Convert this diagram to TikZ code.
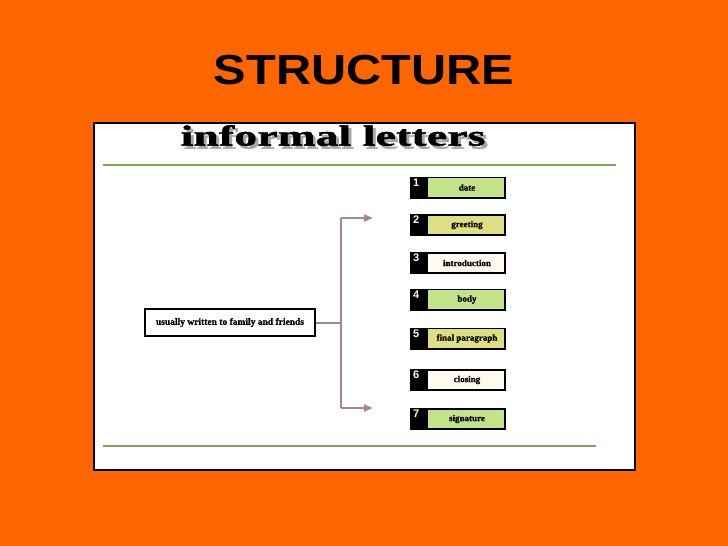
\documentclass[tikz,border=0pt]{standalone}
\usepackage{fontspec}
\setmainfont{Liberation Serif}
\newfontfamily\titlefont{Liberation Sans}
\usetikzlibrary{arrows.meta}
\definecolor{bgorange}{HTML}{FF6600}
\definecolor{rulegreen}{HTML}{7FA556}
\definecolor{boxgreen}{HTML}{C3E38A}
\definecolor{boxyellow}{HTML}{DEDE82}
\definecolor{boxivory}{HTML}{FFFAF0}
\definecolor{linkmauve}{HTML}{A8868B}
\tikzset{
  numbox/.style={draw=black, line width=2pt, minimum width=94pt, minimum height=20pt, inner sep=0pt},
  lbl/.style={font=\fontsize{9}{10}\selectfont\bfseries\addfontfeature{FakeBold=1}, inner sep=0pt},
  num/.style={font=\titlefont\fontsize{11}{11}\selectfont\bfseries, text=white, inner sep=0pt, anchor=north west},
  link/.style={draw=linkmauve, line width=2pt},
  linkarrow/.style={link, -{Triangle[length=9pt,width=7pt]}},
}
\newcommand{\stepitem}[5]{% name, ycenter, number, fill, label
  \node[numbox, fill=black, anchor=west] (#1) at (410,#2) {};
  \fill[#4] ([xshift=18pt,yshift=-1.6pt]#1.north west) rectangle ([xshift=-1.6pt,yshift=1.6pt]#1.south east);
  \node[lbl] (#1l) at ([xshift=9pt]#1.center) {#5};
  \node[num] (#1n) at ([xshift=3pt,yshift=-2pt]#1.north west) {#3};
}
\newcommand{\headtext}{\scalebox{1.55}[1]{\addfontfeature{LetterSpace=1,FakeBold=1.5}informal letters}}
\begin{document}
\begin{tikzpicture}[x=1pt,y=-1pt]
\fill[bgorange] (0,0) rectangle (728,546);
\useasboundingbox (0,0) rectangle (728,546);
% title
\node[font=\titlefont\fontsize{42}{42}\selectfont\bfseries, inner sep=0pt] (title) at (364,70) {\scalebox{1.16}[1]{STRUCTURE}};
% panel
\node[draw=black, fill=white, line width=2.5pt, minimum width=541pt, minimum height=347pt, inner sep=0pt, anchor=north west] (panel) at (92.5,121.5) {};
% heading with shadow
\node[font=\fontsize{29}{29}\selectfont\bfseries, inner sep=0pt] (head) at (333,137)
  {\rlap{\kern3pt\raisebox{-3pt}{\color{black!35}\headtext}}\headtext};
% rules
\coordinate (r1a) at (103,165); \coordinate (r1b) at (616,165);
\coordinate (r2a) at (103,446); \coordinate (r2b) at (596,446);
\draw[rulegreen, line width=2pt] (r1a) -- (r1b);
\draw[rulegreen, line width=2pt] (r2a) -- (r2b);
% left box
\node[draw=black, fill=white, line width=2pt, minimum width=170pt, minimum height=27pt, inner sep=0pt, anchor=west, lbl, font=\fontsize{9.5}{10}\selectfont\bfseries\addfontfeature{FakeBold=1}] (src) at (144,322.5) {usually written to family and friends};
% items
\stepitem{s1}{187.5}{1}{boxgreen}{date}
\stepitem{s2}{225}{2}{boxyellow}{greeting}
\stepitem{s3}{263}{3}{boxivory}{introduction}
\stepitem{s4}{299.5}{4}{boxgreen}{body}
\stepitem{s5}{338.5}{5}{boxyellow}{final paragraph}
\stepitem{s6}{380}{6}{boxivory}{closing}
\stepitem{s7}{419}{7}{boxgreen}{signature}
% connectors
\coordinate (j) at (341,322.5);
\coordinate (top) at (341,218);
\coordinate (bot) at (341,408);
\coordinate (topend) at (373,218);
\coordinate (botend) at (373,408);
\draw[link] (src.east) -- (j);
\draw[link] (top) -- (bot);
\draw[linkarrow] (top) -- (topend);
\draw[linkarrow] (bot) -- (botend);
\end{tikzpicture}
\end{document}
